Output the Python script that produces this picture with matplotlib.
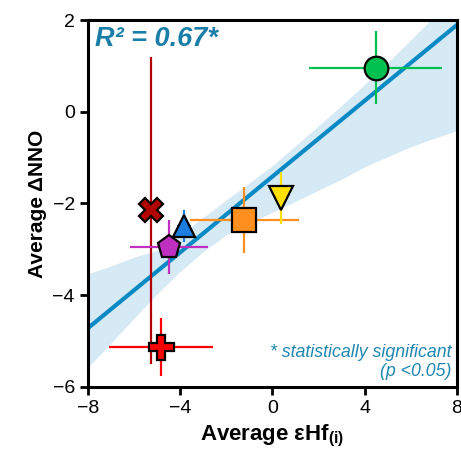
import numpy as np
import matplotlib
matplotlib.use("Agg")
import matplotlib.pyplot as plt

plt.rcParams.update({
    "font.family": ["Liberation Sans", "DejaVu Sans"],
    "mathtext.fontset": "custom",
    "mathtext.rm": "Liberation Sans",
    "mathtext.bf": "Liberation Sans:bold",
    "font.size": 14,
})

# averages per sample
ehf = [4.47, -5.28, -3.82, -4.50, -1.22, 0.38, -4.83]
ehf_err = [2.90, 0.30, 0.30, 1.69, 2.35, 0.30, 2.24]
dnno = [0.96, -2.15, -2.49, -2.95, -2.35, -1.88, -5.13]
dnno_err = [0.80, 3.35, 0.35, 0.59, 0.72, 0.56, 0.63]

markers = ["o", "X", "^", "p", "s", "v", "P"]
face_colors = ["#00c050", "#b00000", "#1a7de0", "#c030c0", "#ff9020", "#ffe000", "#ff0000"]
marker_sizes = [17, 17, 16, 17, 17, 17, 18]

# confidence band edges
band_x = np.arange(-8, 9)
band_upper = [-3.53, -3.36, -3.17, -3.02, -2.68, -2.30, -1.92, -1.55, -1.17,
              -0.74, -0.30, 0.14, 0.60, 1.08, 1.57, 2.07, 2.58]
band_lower = [-5.57, -5.04, -4.50, -3.97, -3.48, -3.05, -2.68, -2.42, -2.19,
              -1.95, -1.71, -1.47, -1.20, -0.98, -0.76, -0.58, -0.41]

# linear fit
slope, intercept = np.polyfit(ehf, dnno, 1)
fit_x = np.array([-8.5, 8.5])
fit_y = slope * fit_x + intercept

fig = plt.figure(figsize=(4.61, 4.55), dpi=100)
ax = fig.add_axes([0.1909, 0.1495, 0.8004, 0.8065])

ax.fill_between(band_x, band_lower, band_upper, color="#d6eaf5", lw=0, zorder=1)
ax.plot(fit_x, fit_y, color="#0a8ac4", lw=3, zorder=2)

for i in range(len(ehf)):
    ax.errorbar(ehf[i], dnno[i], xerr=ehf_err[i], yerr=dnno_err[i], fmt="none",
                ecolor=face_colors[i], elinewidth=1.6, capsize=0, zorder=3)
    ax.plot(ehf[i], dnno[i], marker=markers[i], ms=marker_sizes[i],
            mfc=face_colors[i], mec="black", mew=1.6, ls="none", zorder=4)

ax.set_xlim(-8, 8)
ax.set_ylim(-6, 2)
ax.set_xticks([-8, -4, 0, 4, 8])
ax.set_yticks([-6, -4, -2, 0, 2])
ax.tick_params(width=2, length=6, labelsize=14)
for s in ax.spines.values():
    s.set_linewidth(2.2)

ax.set_xlabel("Average \u03b5Hf$_{\\mathbf{(i)}}$", fontsize=16, fontweight="bold")
ax.set_ylabel("Average \u0394NNO", fontsize=15, fontweight="bold")

ax.text(0.02, 0.985, "R\u00b2 = 0.67*", transform=ax.transAxes, fontsize=19.5,
        fontweight="bold", style="italic", color="#1a7fa8", ha="left", va="top")
ax.text(0.985, 0.018, "* statistically significant\n(p <0.05)", transform=ax.transAxes,
        fontsize=12.8, style="italic", color="#1f87b0", ha="right", va="bottom",
        multialignment="right", linespacing=1.2)

fig.savefig("out.png", dpi=100)
